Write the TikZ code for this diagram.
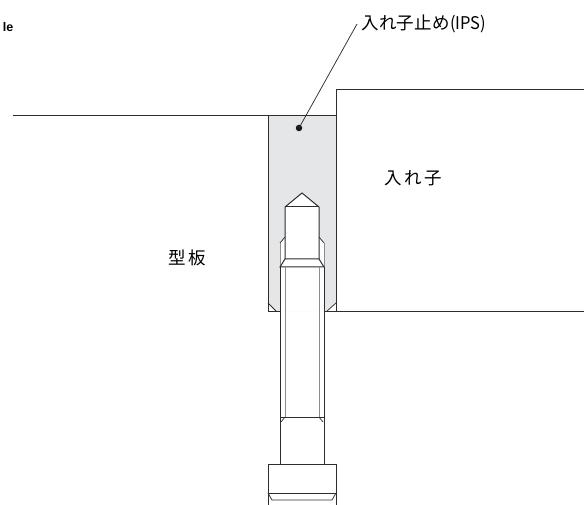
\documentclass[tikz,border=0pt]{standalone}
\usepackage{fontspec}
\setmainfont{Liberation Sans}
\newfontfamily\jpfont{Noto Sans CJK JP}
\definecolor{plate}{RGB}{229,230,232}
\definecolor{ink}{RGB}{45,45,45}
\definecolor{thread}{RGB}{140,140,140}
\tikzset{
  outline/.style={draw=ink,line width=1pt,line join=miter},
  thin line/.style={draw=ink,line width=0.75pt},
  threadline/.style={draw=thread,line width=1pt},
  jp/.style={inner sep=0pt,text=black,anchor=west,font=\jpfont\fontsize{17.5}{20}\selectfont},
}
\begin{document}
\begin{tikzpicture}[x=1pt,y=-1pt]
\useasboundingbox (0,0) rectangle (584,505);
% pocket fill
\fill[plate] (268,116) -- (336,116) -- (336,303) -- (327,311) -- (276,311) -- (268,303) -- cycle;
% bolt blank
\fill[white] (285,207) -- (302,193) -- (319,207) -- (319,237) -- (324,243) -- (324,311) -- (280,311) -- (280,243) -- (285,237) -- cycle;
% plate surface and insert
\draw[outline] (13,116) -- (336,116);
\draw[outline] (336,311) -- (336,90) -- (584,90);
\draw[outline] (268,116) -- (268,311);
\draw[outline] (268,311) -- (280,311);
\draw[outline] (324,311) -- (584,311);
% hole chamfers
\draw[thin line] (268,303) -- (276,311);
\draw[thin line] (336,303) -- (327,311);
% bolt tip
\draw[outline] (285,259) -- (285,207) -- (302,193) -- (319,207) -- (319,259);
\draw[outline] (285,207) -- (319,207);
% thread run-out
\draw[thin line] (285,237) -- (280,243);
\draw[thin line] (319,237) -- (324,243);
\draw[threadline] (280,243) -- (280,267);
\draw[threadline] (324,243) -- (324,267);
\draw[outline] (285,259) -- (319,259) -- (324,267) -- (280,267) -- cycle;
% bolt shank
\draw[outline] (280,267) -- (280,464);
\draw[outline] (324,267) -- (324,464);
\draw[threadline] (285,267) -- (285,417);
\draw[threadline] (319,267) -- (319,417);
\draw[outline] (280,417) -- (324,417);
\draw[thin line] (285,417) -- (281,422);
\draw[thin line] (319,417) -- (323,422);
% head
\draw[outline] (268,505) -- (268,464) -- (336,464) -- (336,505);
\draw[outline] (268,493) -- (336,493);
\draw[thin line] (268,493) -- (272,500) -- (332,500) -- (336,493);
% leader
\node[circle,fill=black!90,inner sep=0pt,minimum size=6.5pt] (dot) at (299,128) {};
\coordinate (leaderend) at (357,24);
\draw[thin line] (dot.center) -- (leaderend);
% labels
\node[jp] (ips) at (361,24) {入\kern.3pt れ\kern.3pt 子\kern.3pt 止\kern.3pt め\kern.3pt\scalebox{0.94}[1]{(IPS)}};
\node[jp] (insert) at (384,178) {入\kern2.5pt れ\kern2.5pt 子};
\node[jp] (plate) at (168,258) {型\kern2.5pt 板};
\node[inner sep=0pt,anchor=east,font=\bfseries\fontsize{12.5}{14}\selectfont] (frag) at (13.5,27) {le};
\end{tikzpicture}
\end{document}
